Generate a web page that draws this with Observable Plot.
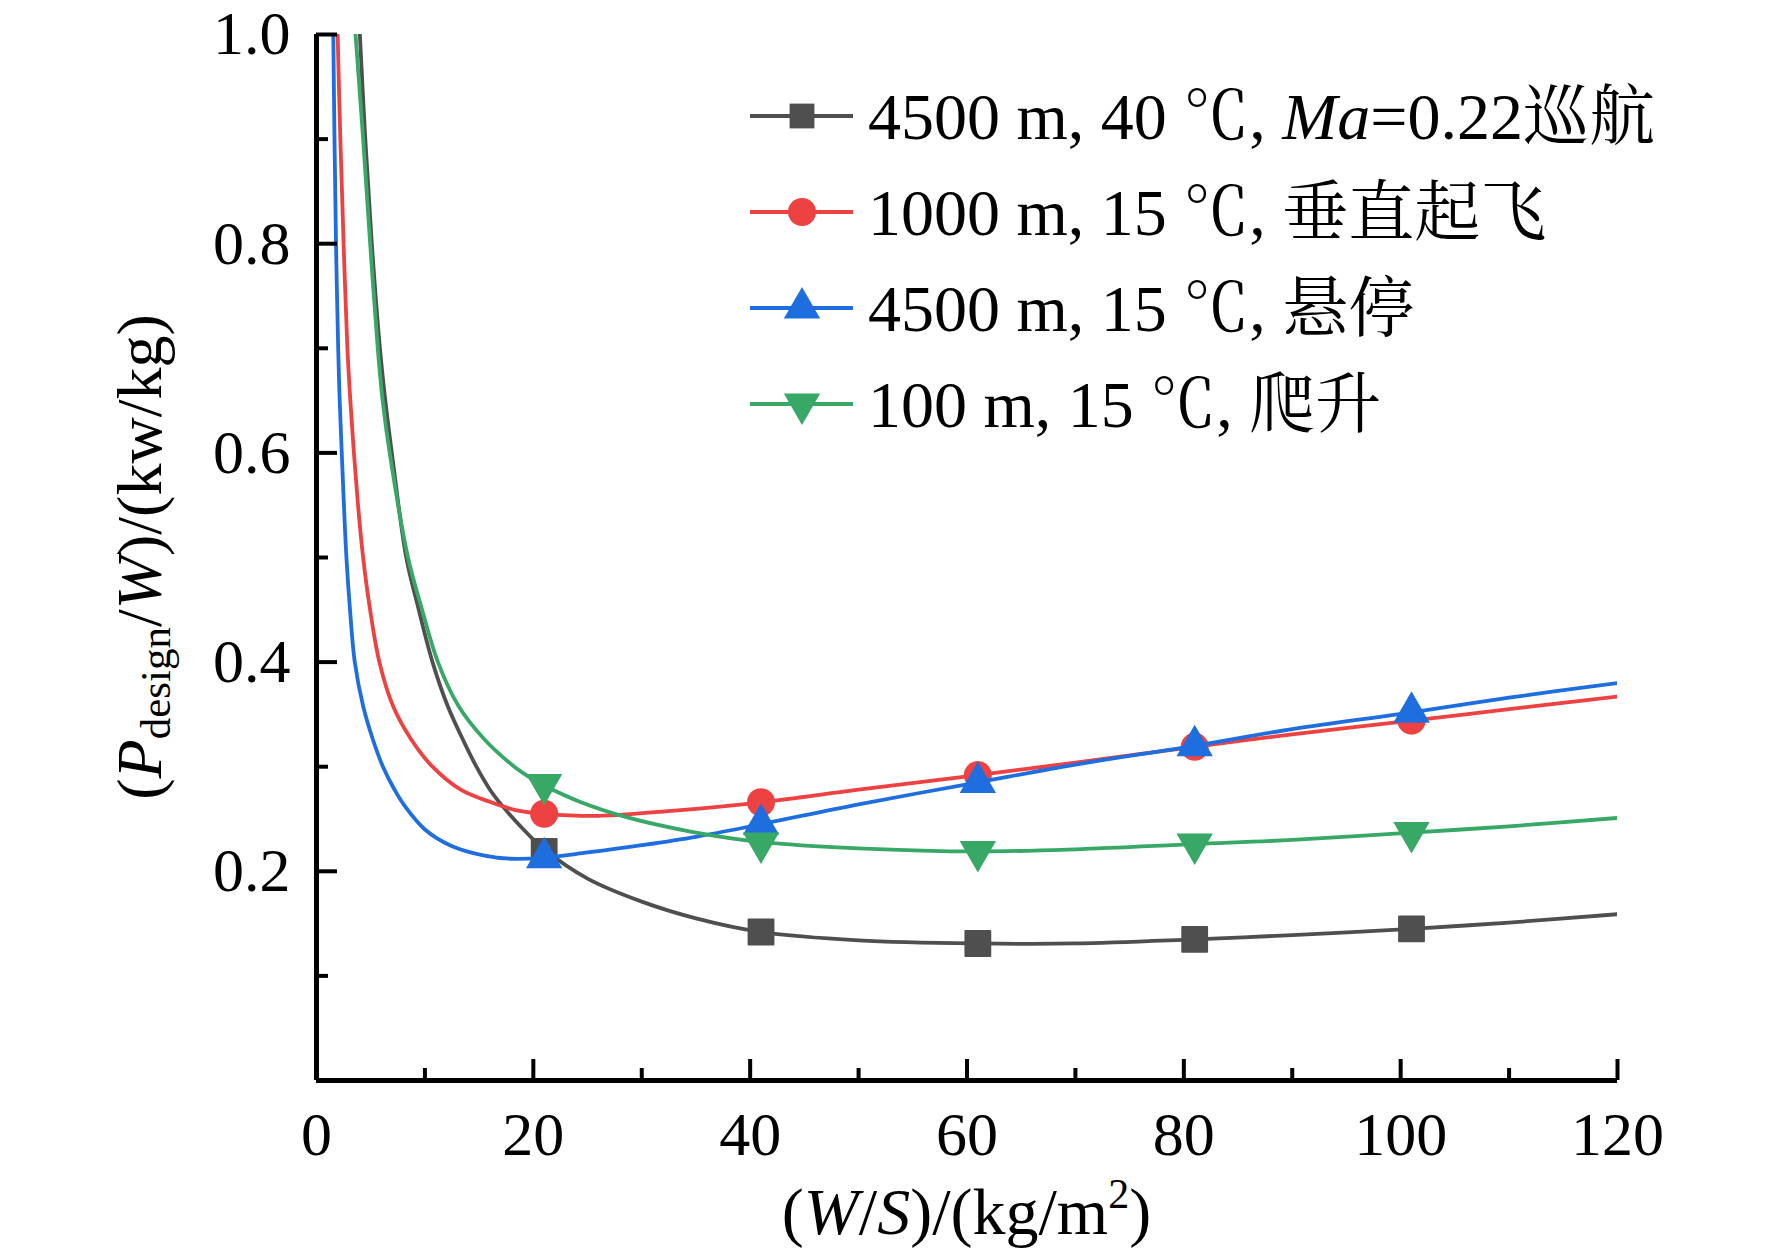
<!DOCTYPE html>
<html>
<head>
<meta charset="utf-8">
<script src="https://cdn.jsdelivr.net/npm/d3@7"></script>
<script src="https://cdn.jsdelivr.net/npm/@observablehq/plot@0.6"></script>
<style>
  body { margin: 0; background: #fff; }
  #wrap { width: 1772px; height: 1255px; overflow: hidden; }
</style>
</head>
<body>
<div id="wrap"></div>
<script>
// ---------- data ----------
const seriesLegend = [
  ["4500 m, 40 ℃, ", {i: "Ma"}, "=0.22巡航"],
  ["1000 m, 15 ℃, 垂直起飞"],
  ["4500 m, 15 ℃, 悬停"],
  ["100 m, 15 ℃, 爬升"]
];
const seriesColors = ["#4f4f4f", "#ee4142", "#1f6ee0", "#37a866"];

// curve points (x = W/S, y = P/W)
const cruiseX = [4.0, 4.5, 5.1, 5.85, 6.35, 6.95, 8.28, 9.36, 10.7, 12.1, 13.5, 14.75, 16.0, 17.1, 19.1, 21, 25, 30, 35, 41, 50, 61, 70, 81, 90, 101, 110, 120];
const cruiseY = [1.0, 0.9, 0.8, 0.7, 0.65, 0.6, 0.5, 0.453, 0.4, 0.358, 0.326, 0.3, 0.278, 0.263, 0.24, 0.221, 0.193, 0.171, 0.155, 0.142, 0.134, 0.131, 0.131, 0.135, 0.139, 0.145, 0.151, 0.159];

const takeoffX = [1.95, 2.2, 2.5, 2.85, 3.12, 3.45, 3.83, 4.3, 4.9, 5.8, 7.06, 8.74, 10.7, 13.3, 16.1, 18.6, 21, 26, 33, 41, 50, 61, 70, 81, 90, 101, 110, 120];
const takeoffY = [1.0, 0.9, 0.8, 0.7, 0.65, 0.6, 0.55, 0.5, 0.453, 0.4, 0.358, 0.326, 0.3, 0.278, 0.266, 0.258, 0.255, 0.253, 0.258, 0.266, 0.278, 0.292, 0.304, 0.319, 0.331, 0.344, 0.355, 0.367];

const hoverX = [1.55, 1.66, 1.8, 2.0, 2.14, 2.33, 2.53, 2.76, 3.07, 3.53, 4.3, 5.2, 6.13, 7.2, 8.1, 10.0, 12.4, 15.5, 17.9, 21, 25, 30, 35, 41, 50, 61, 70, 81, 90, 101, 110, 120];
const hoverY = [1.0, 0.9, 0.8, 0.7, 0.65, 0.6, 0.55, 0.5, 0.453, 0.4, 0.358, 0.326, 0.3, 0.278, 0.263, 0.24, 0.2245, 0.215, 0.212, 0.213, 0.218, 0.225, 0.233, 0.245, 0.264, 0.285, 0.302, 0.32, 0.336, 0.352, 0.366, 0.38];

const climbX = [3.6, 4.3, 4.95, 5.65, 6.1, 6.75, 8.44, 9.66, 11.2, 13.1, 15.5, 18.25, 19.8, 21, 24.4, 28.5, 34.5, 41, 50, 61, 70, 81, 90, 101, 110, 120];
const climbY = [1.0, 0.9, 0.8, 0.7, 0.65, 0.6, 0.5, 0.453, 0.4, 0.358, 0.326, 0.3, 0.289, 0.282, 0.266, 0.252, 0.238, 0.228, 0.222, 0.219, 0.221, 0.226, 0.23, 0.237, 0.243, 0.251];

// marker points
const markerX = [21, 41, 61, 81, 101];
const cruiseM = [0.219, 0.142, 0.131, 0.135, 0.145];
const takeoffM = [0.255, 0.266, 0.292, 0.319, 0.344];
const hoverM = [0.213, 0.245, 0.285, 0.320, 0.352];
const climbM = [0.283, 0.227, 0.219, 0.226, 0.237];

// ticks
const xMajor = [0, 20, 40, 60, 80, 100, 120];
const xMinor = [10, 30, 50, 70, 90, 110];
const yMajor = [0.2, 0.4, 0.6, 0.8, 1.0];
const yMinor = [0.1, 0.3, 0.5, 0.7, 0.9];

// ---------- build ----------
const downTriangle = {
  draw(context, size) {
    const y = -Math.sqrt(size / (Math.sqrt(3) * 3));
    context.moveTo(0, -2 * y);
    context.lineTo(-Math.sqrt(3) * y, y);
    context.lineTo(Math.sqrt(3) * y, y);
    context.closePath();
  }
};
const symbols = [d3.symbolSquare, d3.symbolCircle, d3.symbolTriangle, downTriangle];
const radii = [14, 14, 13.5, 13.5];

const curves = [[cruiseX, cruiseY], [takeoffX, takeoffY], [hoverX, hoverY], [climbX, climbY]]
  .map(([xs, ys]) => xs.map((x, i) => ({x, y: ys[i]})));
const markers = [cruiseM, takeoffM, hoverM, climbM]
  .map(ys => markerX.map((x, i) => ({x, y: ys[i]})));

const W = 1772, H = 1255;
const mL = 316, mR = 155, mT = 34, mB = 175;
const font = "'Liberation Serif', 'Times New Roman', 'Noto Serif CJK SC', 'Noto Sans CJK SC', serif";

const marks = [];
curves.forEach((c, i) => {
  marks.push(Plot.line(c, {x: "x", y: "y", stroke: seriesColors[i], strokeWidth: 3.8, curve: "catmull-rom", clip: true}));
  marks.push(Plot.dot(markers[i], {x: "x", y: "y", symbol: symbols[i], fill: seriesColors[i], r: radii[i],
    stroke: i === 0 ? seriesColors[i] : "none", strokeWidth: i === 0 ? 2 : 0, strokeLinejoin: "round"}));
});
// axis lines
marks.push(Plot.ruleX([0], {stroke: "#000", strokeWidth: 5}));
marks.push(Plot.ruleY([0], {stroke: "#000", strokeWidth: 5, x1: 0, x2: 120}));
// inward ticks
marks.push(Plot.axisY(yMajor, {tickSize: -21, tickFormat: () => "", strokeWidth: 4, label: null}));
marks.push(Plot.axisY(yMinor, {tickSize: -12, tickFormat: () => "", strokeWidth: 4, label: null}));
marks.push(Plot.axisX(xMajor.filter(d => d > 0), {tickSize: -21, tickFormat: () => "", strokeWidth: 4, label: null}));
marks.push(Plot.axisX(xMinor, {tickSize: -12, tickFormat: () => "", strokeWidth: 4, label: null}));
// tick labels
marks.push(Plot.axisY(yMajor, {tickSize: 0, tickPadding: 26, tickFormat: d3.format(".1f"), label: null, fontSize: 62}));
marks.push(Plot.axisX(xMajor, {tickSize: 0, tickPadding: 30, tickFormat: d => d, label: null, fontSize: 62}));

const svgPlot = Plot.plot({
  width: W, height: H,
  marginLeft: mL, marginRight: mR, marginTop: mT, marginBottom: mB,
  x: {domain: [0, 120]},
  y: {domain: [0, 1]},
  style: {fontFamily: font, fontSize: "62px", color: "#000", background: "#fff", overflow: "visible"},
  marks
});
document.getElementById("wrap").appendChild(svgPlot);

const svg = d3.select(svgPlot);

// y axis title
const yt = svg.append("text")
  .attr("transform", `translate(146, ${(mT + (H - mB)) / 2}) rotate(-90)`)
  .attr("text-anchor", "middle")
  .attr("font-family", font)
  .attr("font-size", 64)
  .attr("dominant-baseline", "middle")
  .attr("fill", "#000");
yt.append("tspan").text("(");
yt.append("tspan").attr("font-style", "italic").text("P");
yt.append("tspan").attr("font-size", 43).attr("dy", 14).text("design");
yt.append("tspan").attr("dy", -14).text("/");
yt.append("tspan").attr("font-style", "italic").text("W");
yt.append("tspan").text(")/(kw/kg)");

// x axis title
const xt = svg.append("text")
  .attr("x", (mL + (W - mR)) / 2)
  .attr("y", 1234)
  .attr("text-anchor", "middle")
  .attr("font-family", font)
  .attr("font-size", 66)
  .attr("fill", "#000");
xt.append("tspan").text("(");
xt.append("tspan").attr("font-style", "italic").text("W");
xt.append("tspan").text("/");
xt.append("tspan").attr("font-style", "italic").text("S");
xt.append("tspan").text(")/(kg/m");
xt.append("tspan").attr("font-size", 42).attr("dy", -26).text("2");
xt.append("tspan").attr("dy", 26).text(")");

// legend
const legX0 = 750, legX1 = 853, legXm = 802, legTx = 868;
const legY = [116, 212, 308, 404];
const leg = svg.append("g");
seriesLegend.forEach((parts, i) => {
  const g = leg.append("g").attr("transform", `translate(0, ${legY[i]})`);
  g.append("line").attr("x1", legX0).attr("x2", legX1).attr("y1", 0).attr("y2", 0)
    .attr("stroke", seriesColors[i]).attr("stroke-width", 4);
  g.append("path")
    .attr("transform", `translate(${legXm}, 0)`)
    .attr("d", d3.symbol(symbols[i], Math.PI * radii[i] * radii[i])())
    .attr("fill", seriesColors[i]);
  const t = g.append("text").attr("x", legTx).attr("y", 0).attr("dy", "0.35em")
    .attr("text-anchor", "start")
    .attr("font-family", font).attr("font-size", 66).attr("fill", "#000");
  parts.forEach(p => {
    if (typeof p === "string") t.append("tspan").text(p);
    else t.append("tspan").attr("font-style", "italic").text(p.i);
  });
});
</script>
</body>
</html>
